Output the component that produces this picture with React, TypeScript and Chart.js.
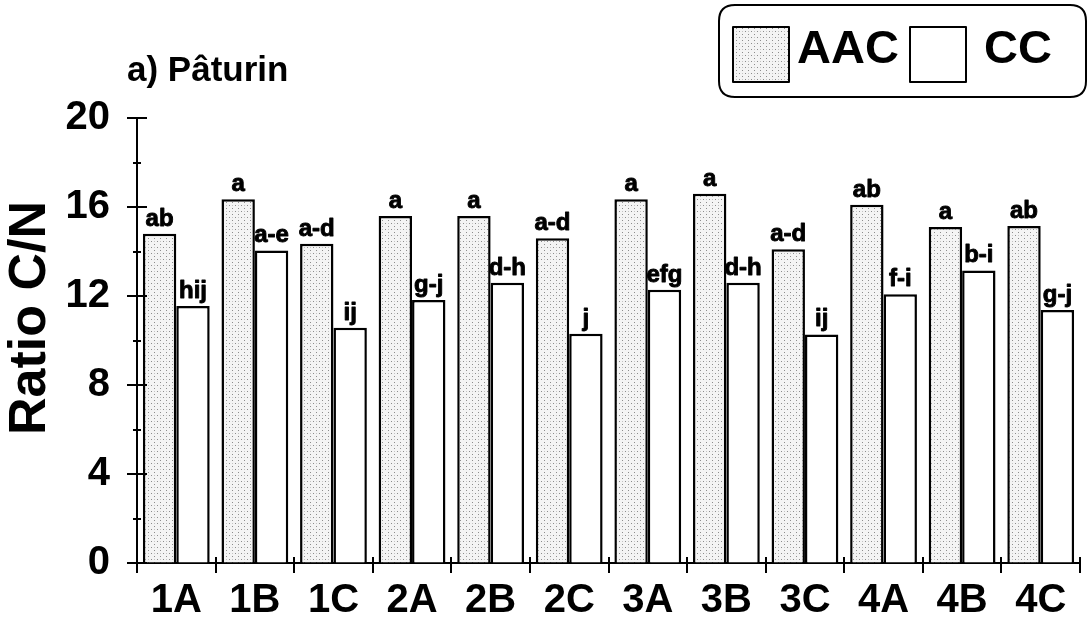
import React, { useEffect, useRef } from "react";
import { Chart, registerables } from "chart.js";

Chart.register(...registerables);

const categories = ["1A", "1B", "1C", "2A", "2B", "2C", "3A", "3B", "3C", "4A", "4B", "4C"];
const seriesNames = ["AAC", "CC"];
const aacValues = [14.8, 16.35, 14.35, 15.6, 15.6, 14.6, 16.35, 16.6, 14.1, 16.1, 15.1, 15.15];
const ccValues = [11.55, 14.05, 10.57, 11.82, 12.6, 10.3, 12.28, 12.6, 10.27, 12.08, 13.15, 11.37];
const aacLetters = ["ab", "a", "a-d", "a", "a", "a-d", "a", "a", "a-d", "ab", "a", "ab"];
const ccLetters = ["hij", "a-e", "ij", "g-j", "d-h", "j", "efg", "d-h", "ij", "f-i", "b-i", "g-j"];
const yMajorTicks = [0, 4, 8, 12, 16, 20];
const yMinorTicks = [2, 6, 10, 14, 18];
const titleText = "a) Pâturin";
const yTitleText = "Ratio C/N";

const FONT = "'Liberation Sans', Arial, Helvetica, sans-serif";

function makePattern(): CanvasPattern | string {
  const c = document.createElement("canvas");
  c.width = 6;
  c.height = 6;
  const g = c.getContext("2d");
  if (!g) return "#eeeeee";
  g.fillStyle = "#f4f4f4";
  g.fillRect(0, 0, 6, 6);
  g.fillStyle = "#8c8c8c";
  g.fillRect(1, 1, 1, 1);
  g.fillRect(4, 4, 1, 1);
  g.fillStyle = "#c4c4c4";
  g.fillRect(4, 1, 1, 1);
  return g.createPattern(c, "repeat") || "#eeeeee";
}

const decorPlugin = {
  id: "decor",
  afterDraw(chart: any) {
    const ctx = chart.ctx as CanvasRenderingContext2D;
    const y = chart.scales.y;
    const x = chart.scales.x;
    const area = chart.chartArea;
    ctx.save();
    ctx.strokeStyle = "#000";
    ctx.lineWidth = 2;
    yMajorTicks.forEach((v) => {
      const py = Math.round(y.getPixelForValue(v));
      ctx.beginPath();
      ctx.moveTo(area.left - 10, py);
      ctx.lineTo(area.left + 10, py);
      ctx.stroke();
    });
    yMinorTicks.forEach((v) => {
      const py = Math.round(y.getPixelForValue(v));
      ctx.beginPath();
      ctx.moveTo(area.left - 4, py);
      ctx.lineTo(area.left + 4, py);
      ctx.stroke();
    });
    const n = categories.length;
    for (let i = 0; i <= n; i++) {
      let px: number;
      if (i === 0) px = area.left;
      else if (i === n) px = area.right;
      else px = (x.getPixelForValue(i - 1) + x.getPixelForValue(i)) / 2;
      ctx.beginPath();
      ctx.moveTo(Math.round(px), area.bottom - 6);
      ctx.lineTo(Math.round(px), area.bottom + 10);
      ctx.stroke();
    }

    ctx.fillStyle = "#000";
    ctx.font = `bold 24px ${FONT}`;
    ctx.textAlign = "center";
    ctx.textBaseline = "alphabetic";
    ctx.lineWidth = 0.9;
    ctx.lineJoin = "round";
    const letterSets = [aacLetters, ccLetters];
    chart.data.datasets.forEach((_: any, di: number) => {
      const meta = chart.getDatasetMeta(di);
      meta.data.forEach((bar: any, i: number) => {
        ctx.fillText(letterSets[di][i], bar.x, bar.y - 8);
        ctx.strokeText(letterSets[di][i], bar.x, bar.y - 8);
      });
    });

    ctx.font = `bold 35px ${FONT}`;
    ctx.textAlign = "left";
    ctx.textBaseline = "middle";
    ctx.fillText(titleText, 127, 71);

    ctx.save();
    ctx.translate(31, 318);
    ctx.rotate(-Math.PI / 2);
    ctx.font = `bold 52px ${FONT}`;
    ctx.textAlign = "center";
    ctx.textBaseline = "middle";
    ctx.fillText(yTitleText, 0, 0);
    ctx.restore();

    const lx = 719, ly = 5, lw = 367, lh = 92, r = 16;
    ctx.beginPath();
    ctx.moveTo(lx + r, ly);
    ctx.lineTo(lx + lw - r, ly);
    ctx.quadraticCurveTo(lx + lw, ly, lx + lw, ly + r);
    ctx.lineTo(lx + lw, ly + lh - r);
    ctx.quadraticCurveTo(lx + lw, ly + lh, lx + lw - r, ly + lh);
    ctx.lineTo(lx + r, ly + lh);
    ctx.quadraticCurveTo(lx, ly + lh, lx, ly + lh - r);
    ctx.lineTo(lx, ly + r);
    ctx.quadraticCurveTo(lx, ly, lx + r, ly);
    ctx.closePath();
    ctx.lineWidth = 2;
    ctx.stroke();

    const boxes = [
      { bx: 733, tx: 797 },
      { bx: 910, tx: 984 },
    ];
    chart.data.datasets.forEach((ds: any, di: number) => {
      const b = boxes[di];
      ctx.fillStyle = ds.backgroundColor;
      ctx.fillRect(b.bx, 27, 56, 55);
      ctx.lineWidth = 2;
      ctx.strokeStyle = "#000";
      ctx.strokeRect(b.bx, 27, 56, 55);
      ctx.fillStyle = "#000";
      ctx.font = `bold 47px ${FONT}`;
      ctx.textAlign = "left";
      ctx.textBaseline = "middle";
      ctx.fillText(ds.label, b.tx, 50);
    });
    ctx.restore();
  },
};

export default function App() {
  const ref = useRef<HTMLCanvasElement | null>(null);
  useEffect(() => {
    if (!ref.current) return;
    const pattern = makePattern();
    const chart = new Chart(ref.current, {
      type: "bar",
      data: {
        labels: categories,
        datasets: [
          {
            label: seriesNames[0],
            data: aacValues,
            backgroundColor: pattern as any,
            borderColor: "#000",
            borderWidth: 2.5,
            categoryPercentage: 0.85,
            barPercentage: 1.0,
          },
          {
            label: seriesNames[1],
            data: ccValues,
            backgroundColor: "#ffffff",
            borderColor: "#000",
            borderWidth: 2.5,
            categoryPercentage: 0.85,
            barPercentage: 1.0,
          },
        ],
      },
      options: {
        responsive: false,
        animation: false,
        devicePixelRatio: 1,
        layout: { padding: { top: 118, right: 8, left: 0, bottom: 0 } },
        plugins: {
          legend: { display: false },
          title: { display: false },
          tooltip: { enabled: false },
        },
        scales: {
          x: {
            afterFit: (s: any) => {
              s.height = 54;
            },
            grid: { display: true, drawOnChartArea: false, drawTicks: false },
            border: { display: true, color: "#000", width: 2 },
            ticks: {
              color: "#000",
              font: { family: FONT, size: 40, weight: "bold" },
              padding: 14,
              maxRotation: 0,
              autoSkip: false,
            },
          },
          y: {
            min: 0,
            max: 20,
            afterFit: (s: any) => {
              s.width = 137;
            },
            grid: { display: true, drawOnChartArea: false, drawTicks: false },
            border: { display: true, color: "#000", width: 2 },
            ticks: {
              stepSize: 4,
              color: "#000",
              font: { family: FONT, size: 40, weight: "bold" },
              padding: 27,
            },
          },
        },
      },
      plugins: [decorPlugin],
    });
    return () => chart.destroy();
  }, []);
  return (
    <div style={{ position: "absolute", left: 0, top: 0, width: 1088, height: 617, background: "#fff" }}>
      <canvas ref={ref} width={1088} height={617} style={{ display: "block" }} />
    </div>
  );
}
